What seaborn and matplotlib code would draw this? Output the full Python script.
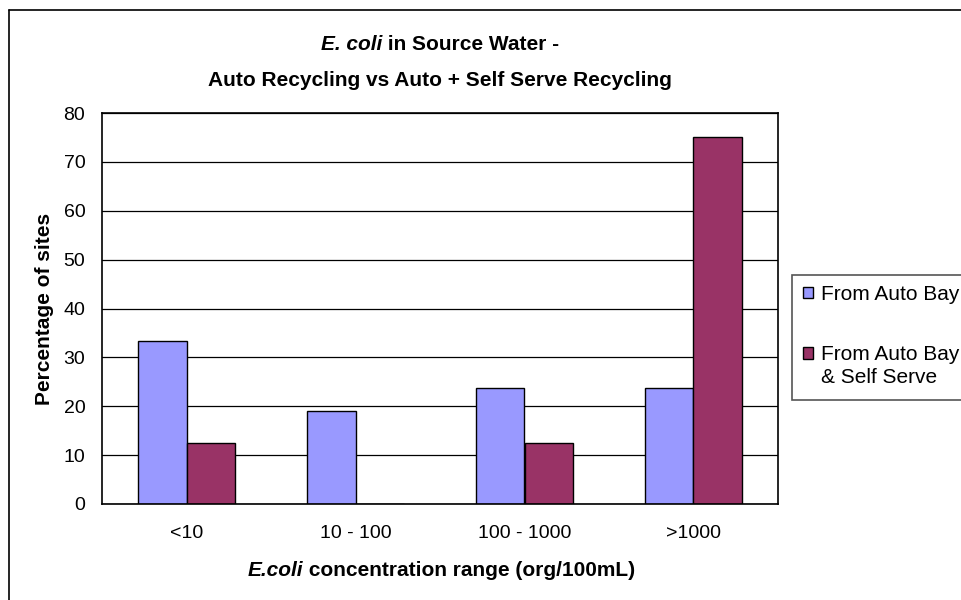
import matplotlib
matplotlib.use("Agg")
import matplotlib.pyplot as plt
import seaborn as sns
import pandas as pd
from matplotlib.patches import Rectangle, Patch
from matplotlib.lines import Line2D

categories = ["<10", "10 - 100", "100 - 1000", ">1000"]
series_names = ["From Auto Bay", "From Auto Bay\n& Self Serve"]
auto_bay = [33.3, 19.0, 23.8, 23.8]
auto_self = [12.5, 0.0, 12.5, 75.0]
colors = ["#9999FF", "#993366"]

df = pd.DataFrame({
    "range": categories * 2,
    "pct": auto_bay + auto_self,
    "source": [series_names[0]] * 4 + [series_names[1]] * 4,
})

sns.set_style("white")
plt.rcParams["font.family"] = ["Liberation Sans", "DejaVu Sans"]
plt.rcParams["text.color"] = "black"
plt.rcParams["axes.labelcolor"] = "black"
plt.rcParams["xtick.color"] = "black"
plt.rcParams["ytick.color"] = "black"

W, H = 962, 600
fig = plt.figure(figsize=(W / 100, H / 100), dpi=100)
L, R, T, B = 102, 778, 113, 504
ax = fig.add_axes([L / W, 1 - B / H, (R - L) / W, (B - T) / H])

sns.barplot(data=df, x="range", y="pct", hue="source", order=categories,
            hue_order=series_names, palette=colors, width=0.574, gap=0,
            edgecolor="black", linewidth=1.0, saturation=1, ax=ax, legend=False)

ax.set_ylim(0, 80)
ax.set_xlim(-0.5, 3.5)
ax.set_yticks(range(0, 81, 10))
ax.yaxis.grid(True, color="black", linewidth=0.9)
ax.set_axisbelow(True)
for s in ax.spines.values():
    s.set_color("black")
    s.set_linewidth(1.2)
ax.tick_params(axis="y", which="major", direction="out", length=4, width=1,
               color="black", labelcolor="black", labelsize=14, pad=8)
ax.set_xticks(range(4))
ax.set_xticklabels(categories)
ax.tick_params(axis="x", which="major", length=0, labelsize=14, pad=15,
               labelcolor="black")
ax.set_xticks([-0.5, 0.5, 1.5, 2.5, 3.5], minor=True)
ax.tick_params(axis="x", which="minor", direction="out", length=4, width=1, color="black")
ax.set_xlabel("")
ax.set_ylabel("Percentage of sites", fontsize=15, fontweight="bold", labelpad=7,
              color="black")

renderer = fig.canvas.get_renderer()

def rich_line(cx, cy, parts, size):
    texts = []
    for s, style in parts:
        t = fig.text(0, 1 - cy / H, s, fontsize=size, fontweight="bold",
                     fontstyle=style, va="center", ha="left", color="black")
        texts.append(t)
    widths = [t.get_window_extent(renderer).width for t in texts]
    x = cx - sum(widths) / 2
    for t, w in zip(texts, widths):
        t.set_x(x / W)
        x += w

rich_line(440, 45, [("E. coli", "italic"), (" in Source Water -", "normal")], 15)
rich_line(440, 80, [("Auto Recycling vs Auto + Self Serve Recycling", "normal")], 15)
rich_line(441, 570, [("E.coli", "italic"), (" concentration range (org/100mL)", "normal")], 15)

# outer chart border (top and left visible)
fig.add_artist(Line2D([9 / W, 9 / W], [0, 1 - 10 / H], color="black", linewidth=1.2))
fig.add_artist(Line2D([9 / W, 1], [1 - 10 / H, 1 - 10 / H], color="black", linewidth=1.2))


class UpperHandler:
    def __init__(self, dy):
        self.dy = dy

    def legend_artist(self, legend, orig_handle, fontsize, handlebox):
        x0, y0 = handlebox.xdescent, handlebox.ydescent
        w, h = handlebox.width, handlebox.height
        p = Rectangle((-x0, -y0 + self.dy), w, h,
                      facecolor=orig_handle.get_facecolor(), edgecolor="black",
                      linewidth=1, transform=handlebox.get_transform())
        handlebox.add_artist(p)
        return p


# legend frame
fig.add_artist(Rectangle((792 / W, 1 - 400 / H), 200 / W, 125 / H, transform=fig.transFigure,
                         facecolor="white", edgecolor="#555555", linewidth=1.2))
handles = [Patch(facecolor=c, edgecolor="black", linewidth=1) for c in colors]
leg = fig.legend(handles, series_names, loc="upper left",
                 bbox_to_anchor=(803 / W, 1 - 285 / H), frameon=False, fontsize=15,
                 handlelength=0.48, handleheight=0.48, handletextpad=0.38,
                 labelspacing=1.95, borderaxespad=0, borderpad=0,
                 handler_map={handles[0]: UpperHandler(0), handles[1]: UpperHandler(9.5)})
for t in leg.get_texts():
    t.set_linespacing(1.3)
    t.set_color("black")

fig.savefig("out.png", dpi=100)
